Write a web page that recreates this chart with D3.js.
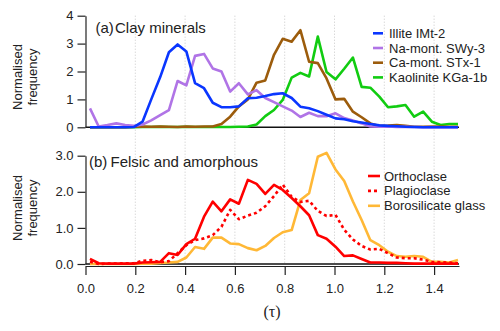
<!DOCTYPE html>
<html>
<head>
<meta charset="utf-8">
<script src="https://cdn.jsdelivr.net/npm/d3@7"></script>
<style>
  body { margin: 0; background: #fff; }
  svg { display: block; font-family: "Liberation Sans", Arial, sans-serif; }
</style>
</head>
<body>
<div id="chart"></div>
<script>
// bin centres (tau)
const tau = [0.018, 0.053, 0.088, 0.124, 0.159, 0.194, 0.229, 0.264, 0.300, 0.335,
  0.370, 0.405, 0.440, 0.476, 0.511, 0.546, 0.581, 0.616, 0.652, 0.687,
  0.722, 0.757, 0.792, 0.828, 0.863, 0.898, 0.933, 0.968, 1.004, 1.039,
  1.074, 1.109, 1.144, 1.180, 1.215, 1.250, 1.285, 1.320, 1.356, 1.391,
  1.426, 1.461, 1.496];

// (a) clay minerals
const illite = [0, 0, 0, 0, 0, 0.01, 0.2, 1.0, 1.8, 2.69,
  2.97, 2.72, 1.58, 1.4, 0.88, 0.72, 0.72, 0.75, 1.04, 1.06,
  1.12, 1.19, 1.22, 1.05, 0.74, 0.68, 0.58, 0.45, 0.32, 0.29,
  0.22, 0.17, 0.12, 0.07, 0.05, 0.04, 0.02, 0.01, 0, 0,
  0, 0, 0];
const naMont = [0.68, 0.03, 0.08, 0.14, 0.08, 0.05, 0.1, 0.25, 0.44, 0.62,
  1.66, 1.5, 2.56, 2.63, 2.11, 2.0, 1.28, 1.58, 1.18, 1.33,
  1.05, 0.9, 0.75, 0.6, 0.37, 0.52, 0.4, 0.4, 0.5, 0.33,
  0.24, 0.14, 0.03, 0.02, 0.03, 0.01, 0.02, 0.01, 0, 0.01,
  0, 0, 0];
const caMont = [0, 0, 0, 0, 0, 0.02, 0.03, 0.02, 0.03, 0.02,
  0.01, 0.03, 0.02, 0.03, 0.03, 0.12, 0.38, 0.75, 1.0, 1.6,
  1.68, 2.6, 3.17, 3.07, 3.48, 2.35, 2.3, 1.75, 1.0, 1.02,
  0.56, 0.36, 0.14, 0.05, 0.06, 0.08, 0.05, 0.02, 0.02, 0.03,
  0.03, 0.02, 0.02];
const kaolinite = [0, 0, 0, 0, 0, 0, 0.01, 0.01, 0.02, 0.01,
  0.01, 0.02, 0.01, 0.01, 0.02, 0.01, 0.01, 0.02, 0.03, 0.1,
  0.4, 0.62, 0.98, 1.78, 1.95, 1.82, 3.25, 1.98, 1.72, 2.1,
  2.5, 1.45, 1.42, 1.1, 0.72, 0.75, 0.8, 0.38, 0.56, 0.2,
  0.08, 0.12, 0.12];

// (b) felsic and amorphous
const orthoclase = [0.14, 0.02, 0.01, 0.01, 0.01, 0.01, 0.04, 0.05, 0.06, 0.3,
  0.25, 0.55, 0.7, 1.31, 1.73, 1.46, 1.79, 1.67, 2.33, 2.22,
  1.94, 2.19, 2.05, 1.83, 1.6, 1.35, 0.8, 0.7, 0.48, 0.22,
  0.24, 0.14, 0.04, 0.04, 0.03, 0.03, 0.02, 0.01, 0.01, 0.01,
  0.01, 0.01, 0.01];
const plagioclase = [0.06, 0, 0.01, 0.01, 0.02, 0.02, 0.09, 0.11, 0.05, 0.08,
  0.3, 0.52, 0.66, 0.71, 0.8, 1.03, 1.5, 1.24, 1.34, 1.42,
  1.6, 1.88, 2.2, 1.86, 1.72, 1.75, 1.47, 1.33, 1.36, 0.95,
  0.68, 0.5, 0.4, 0.42, 0.3, 0.18, 0.16, 0.16, 0.12, 0.06,
  0.05, 0.04, 0.02];
const borosilicate = [0, 0, 0, 0, 0, 0, 0.01, 0.01, 0.03, 0.04,
  0.06, 0.18, 0.47, 0.42, 0.73, 0.73, 0.57, 0.55, 0.44, 0.38,
  0.5, 0.72, 0.88, 0.94, 1.77, 1.96, 2.97, 3.08, 2.62, 2.3,
  1.73, 1.22, 0.66, 0.52, 0.34, 0.22, 0.2, 0.22, 0.2, 0.06,
  0.06, 0.04, 0.11];

const xTicks = [0, 0.2, 0.4, 0.6, 0.8, 1.0, 1.2, 1.4];
const yTicksTop = [0, 1, 2, 3, 4];
const yTicksBottom = [0, 1, 2, 3];
const gridTicks = [0.2, 0.4, 0.6, 0.8, 1.0, 1.2, 1.4];

const topSeries = [
  {name: "Kaolinite KGa-1b", values: kaolinite, color: "#11cc11", dash: null, legend: 3},
  {name: "Ca-mont. STx-1", values: caMont, color: "#9c5c0c", dash: null, legend: 2},
  {name: "Na-mont. SWy-3", values: naMont, color: "#b074e6", dash: null, legend: 1},
  {name: "Illite IMt-2", values: illite, color: "#0a36ff", dash: null, legend: 0}
];
const bottomSeries = [
  {name: "Borosilicate glass", values: borosilicate, color: "#ffb836", dash: null, legend: 2},
  {name: "Plagioclase", values: plagioclase, color: "#ff0000", dash: "3,3", legend: 1},
  {name: "Orthoclase", values: orthoclase, color: "#ff0000", dash: null, legend: 0}
];

const width = 500, height = 331;
const textColor = "#222";

const svg = d3.select("#chart").append("svg")
  .attr("width", width)
  .attr("height", height);

const x = d3.scaleLinear().domain([0, 1.5]).range([85.5, 459]);
const yTop = d3.scaleLinear().domain([0, 4]).range([127.3, 15.7]);
const yBot = d3.scaleLinear().domain([0, 3]).range([264, 155.7]);

// dotted vertical grid through both panels
svg.append("g").attr("class", "grid")
  .selectAll("line")
  .data(gridTicks)
  .join("line")
  .attr("x1", d => x(d)).attr("x2", d => x(d))
  .attr("y1", yTop(4)).attr("y2", yBot(0))
  .attr("stroke", "#c8c8c8")
  .attr("stroke-width", 1)
  .attr("stroke-dasharray", "1,2");

// zero lines
[[yTop], [yBot]].forEach(([ys]) => {
  svg.append("line")
    .attr("x1", x(0)).attr("x2", x(1.5))
    .attr("y1", ys(0)).attr("y2", ys(0))
    .attr("stroke", "#111")
    .attr("stroke-width", 1.5);
});

function styleAxis(g) {
  g.selectAll("path, line").attr("stroke", "#222").attr("stroke-width", 1.2);
  g.selectAll("text").attr("fill", textColor).attr("font-size", 13)
    .attr("font-family", "Liberation Sans, Arial, sans-serif");
}

// y axes
svg.append("g")
  .attr("transform", "translate(" + x(0) + ",0)")
  .call(d3.axisLeft(yTop).tickValues(yTicksTop).tickFormat(d3.format("d"))
    .tickSize(8).tickSizeOuter(0).tickPadding(4))
  .call(styleAxis);
svg.append("g")
  .attr("transform", "translate(" + x(0) + ",0)")
  .call(d3.axisLeft(yBot).tickValues(yTicksBottom).tickFormat(d3.format(".1f"))
    .tickSize(8).tickSizeOuter(0).tickPadding(4))
  .call(styleAxis);

// x axis under the lower panel
svg.append("g")
  .attr("transform", "translate(0,266)")
  .call(d3.axisBottom(x).tickValues(xTicks).tickFormat(d3.format(".1f"))
    .tickSize(9).tickSizeOuter(0).tickPadding(9))
  .call(styleAxis);

// data lines
function drawLines(series, ys) {
  const line = d3.line()
    .x((d, i) => x(tau[i]))
    .y(d => ys(d));
  svg.append("g")
    .selectAll("path")
    .data(series)
    .join("path")
    .attr("d", s => line(s.values))
    .attr("fill", "none")
    .attr("stroke", s => s.color)
    .attr("stroke-width", 2.6)
    .attr("stroke-linejoin", "round")
    .attr("stroke-dasharray", s => s.dash);
}
drawLines(topSeries, yTop);
drawLines(bottomSeries, yBot);

// legends
function drawLegend(series, lx0, lx1, tx, y0, step) {
  const g = svg.append("g");
  series.forEach(s => {
    const cy = y0 + s.legend * step;
    g.append("line")
      .attr("x1", lx0).attr("x2", lx1)
      .attr("y1", cy).attr("y2", cy)
      .attr("stroke", s.color)
      .attr("stroke-width", 2.6)
      .attr("stroke-dasharray", s.dash);
    g.append("text")
      .attr("x", tx).attr("y", cy)
      .attr("dy", "0.35em")
      .attr("font-size", 13)
      .attr("fill", textColor)
      .text(s.name);
  });
}
drawLegend(topSeries, 373, 383, 389, 33.3, 14.7);
drawLegend(bottomSeries, 368, 380, 384, 176, 14.9);

// panel titles
svg.append("text").attr("x", 95.5).attr("y", 33).attr("font-size", 15).attr("fill", textColor).text("(a)");
svg.append("text").attr("x", 115).attr("y", 33).attr("font-size", 15).attr("fill", textColor).text("Clay minerals");
svg.append("text").attr("x", 89).attr("y", 166.5).attr("font-size", 15).attr("fill", textColor).text("(b)");
svg.append("text").attr("x", 110.5).attr("y", 166.5).attr("font-size", 15).attr("fill", textColor).text("Felsic and amorphous");

// y titles
[77, 208].forEach(cy => {
  const t = svg.append("text")
    .attr("transform", "translate(0," + cy + ") rotate(-90)")
    .attr("text-anchor", "middle")
    .attr("font-size", 13)
    .attr("fill", textColor);
  t.append("tspan").attr("x", 0).attr("y", 22).text("Normalised");
  t.append("tspan").attr("x", 0).attr("y", 37).text("frequency");
});

// x title
svg.append("text")
  .attr("x", 272).attr("y", 317)
  .attr("text-anchor", "middle")
  .attr("font-family", "Liberation Serif, Times New Roman, serif")
  .attr("font-size", 16)
  .attr("fill", textColor)
  .text("(τ)");
</script>
</body>
</html>
